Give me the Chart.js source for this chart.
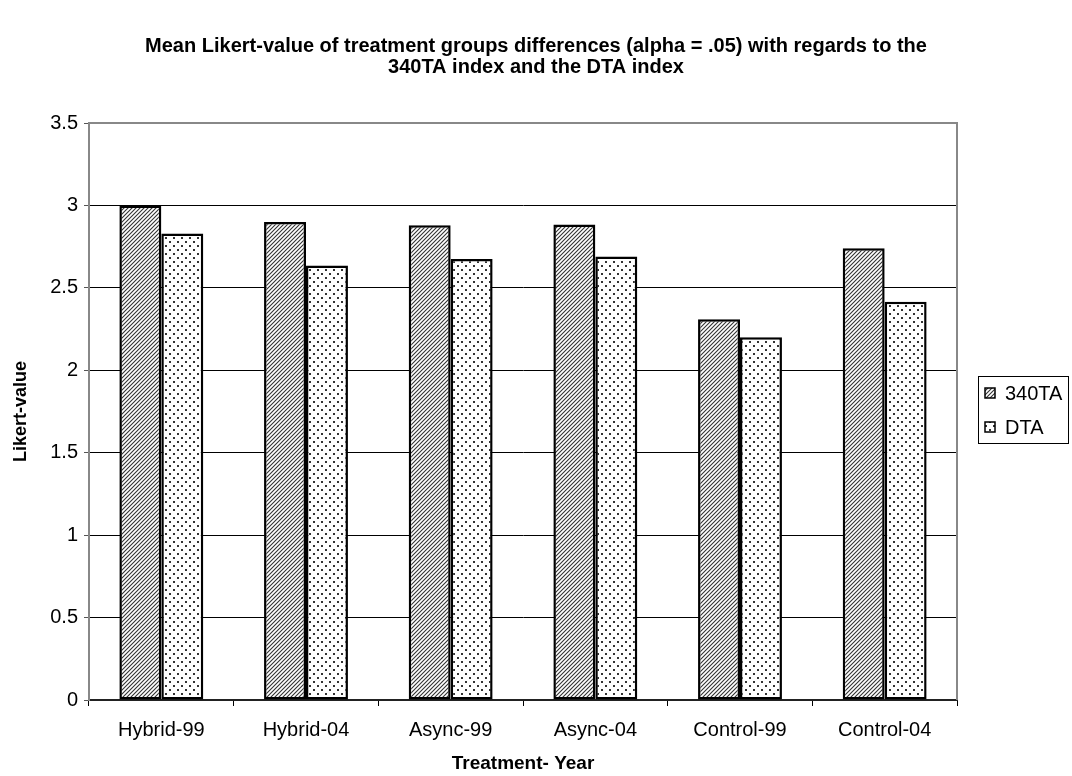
<!DOCTYPE html>
<html>
<head>
<meta charset="utf-8">
<script src="https://cdn.jsdelivr.net/npm/chart.js@4.4.0/dist/chart.umd.min.js"></script>
<style>
  html, body { margin: 0; padding: 0; background: #fff; }
  #wrap { width: 1072px; height: 776px; }
</style>
</head>
<body>
<div id="wrap"><canvas id="likert-chart" width="1072" height="776"></canvas></div>
<script>
// data
const categories = ['Hybrid-99', 'Hybrid-04', 'Async-99', 'Async-04', 'Control-99', 'Control-04'];
const values340TA = [3.0, 2.90, 2.88, 2.885, 2.31, 2.74];
const valuesDTA = [2.83, 2.635, 2.675, 2.69, 2.20, 2.415];
const seriesNames = ['340TA', 'DTA'];
const yTicks = [0, 0.5, 1, 1.5, 2, 2.5, 3, 3.5];
const titleLines = [
    'Mean Likert-value of treatment groups differences (alpha = .05) with regards to the',
    '340TA index and the DTA index'
];
const xTitle = 'Treatment- Year';
const yTitle = 'Likert-value';

const fontFamily = '"Liberation Sans", Arial, Helvetica, sans-serif';

const canvas = document.getElementById('likert-chart');
const ctx = canvas.getContext('2d');

// diagonal hatch, like the old excel fill
function hatchPattern() {
    const c = document.createElement('canvas');
    c.width = 4; c.height = 4;
    const g = c.getContext('2d');
    g.fillStyle = '#fff';
    g.fillRect(0, 0, 4, 4);
    g.strokeStyle = '#333';
    g.lineWidth = 1.1;
    g.beginPath();
    g.moveTo(-1, 5); g.lineTo(5, -1);
    g.moveTo(-1, 1); g.lineTo(1, -1);
    g.moveTo(3, 5); g.lineTo(5, 3);
    g.stroke();
    return ctx.createPattern(c, 'repeat');
}

// dotted fill
function dotPattern() {
    const c = document.createElement('canvas');
    c.width = 8; c.height = 8;
    const g = c.getContext('2d');
    g.fillStyle = '#fff';
    g.fillRect(0, 0, 8, 8);
    g.fillStyle = '#333';
    g.fillRect(1, 1, 2, 2);
    g.fillRect(5, 5, 2, 2);
    return ctx.createPattern(c, 'repeat');
}

const fills = [hatchPattern(), dotPattern()];

// boxed legend on the right + grey plot frame
const frameAndLegend = {
    id: 'frameAndLegend',
    afterDraw(chart) {
        const c = chart.ctx;
        const a = chart.chartArea;
        c.save();
        c.strokeStyle = '#888';
        c.lineWidth = 2;
        c.beginPath();
        c.moveTo(a.left, a.top);
        c.lineTo(a.right, a.top);
        c.lineTo(a.right, a.bottom);
        c.stroke();

        // legend box
        const bx = 978, by = 376, bw = 90, bh = 67;
        c.strokeStyle = '#000';
        c.lineWidth = 1;
        c.strokeRect(bx + 0.5, by + 0.5, bw, bh);
        c.font = '20px ' + fontFamily;
        c.textBaseline = 'middle';
        seriesNames.forEach((name, i) => {
            const cy = by + 17 + i * 34;
            c.fillStyle = fills[i];
            c.fillRect(985, cy - 5, 10, 10);
            c.strokeStyle = '#000';
            c.lineWidth = 1.5;
            c.strokeRect(985, cy - 5, 10, 10);
            c.fillStyle = '#000';
            c.fillText(name, 1005, cy + 1);
        });
        c.restore();
    }
};

const chart = new Chart(canvas, {
    type: 'bar',
    data: {
        labels: categories,
        datasets: [
            {
                label: seriesNames[0],
                data: values340TA,
                backgroundColor: fills[0],
                borderColor: '#000',
                borderWidth: 2.5,
                borderSkipped: false,
                categoryPercentage: 0.58,
                barPercentage: 1.0
            },
            {
                label: seriesNames[1],
                data: valuesDTA,
                backgroundColor: fills[1],
                borderColor: '#000',
                borderWidth: 2.5,
                borderSkipped: false,
                categoryPercentage: 0.58,
                barPercentage: 1.0
            }
        ]
    },
    options: {
        responsive: false,
        animation: false,
        devicePixelRatio: 1,
        layout: { padding: 0 },
        plugins: {
            legend: { display: false },
            tooltip: { enabled: false },
            title: {
                display: true,
                text: titleLines,
                color: '#000',
                font: { family: fontFamily, size: 20, weight: 'bold', lineHeight: 1.05 },
                padding: { top: 35.5, bottom: 45.5 }
            }
        },
        scales: {
            x: {
                grid: { offset: true, drawOnChartArea: false, drawTicks: true, tickLength: 6, color: '#000', lineWidth: 1 },
                border: { display: true, color: '#222', width: 2 },
                ticks: { color: '#000', font: { family: fontFamily, size: 20 }, padding: 12, maxRotation: 0 },
                title: {
                    display: true, text: xTitle, color: '#000',
                    font: { family: fontFamily, size: 19, weight: 'bold' },
                    padding: { top: 0, bottom: 1 }
                },
                afterFit: s => { s.height = 76; }
            },
            y: {
                min: 0,
                max: 3.5,
                afterBuildTicks: s => { s.ticks = yTicks.map(v => ({ value: v })); },
                ticks: { color: '#000', font: { family: fontFamily, size: 20 }, padding: 6, callback: v => String(v) },
                grid: { color: '#000', lineWidth: 1, tickLength: 5, tickColor: '#555' },
                border: { display: true, color: '#888', width: 2 },
                title: {
                    display: true, text: yTitle, color: '#000',
                    font: { family: fontFamily, size: 18, weight: 'bold' },
                    padding: { top: 10, bottom: 0 }
                },
                afterFit: s => { s.width = 89; }
            },
            // empty right-hand scale, only reserves room for the legend box
            side: {
                position: 'right',
                display: true,
                grid: { display: false },
                border: { display: false },
                ticks: { display: false },
                afterFit: s => { s.width = 115; }
            }
        }
    },
    plugins: [frameAndLegend]
});
</script>
</body>
</html>
